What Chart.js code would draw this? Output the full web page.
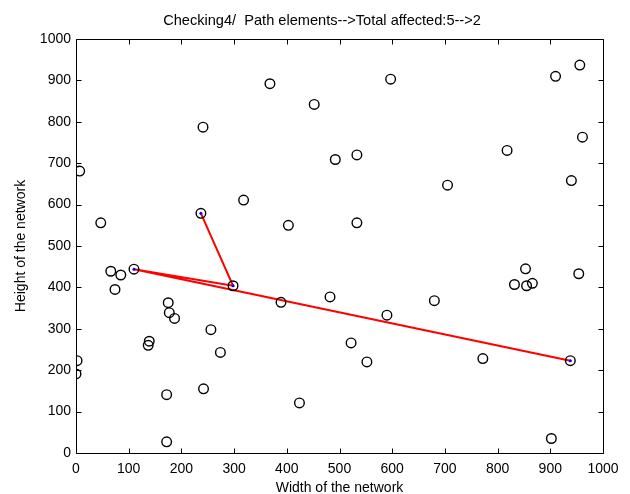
<!DOCTYPE html>
<html>
<head>
<meta charset="utf-8">
<script src="https://cdn.jsdelivr.net/npm/chart.js@4/dist/chart.umd.min.js"></script>
<style>
html,body{margin:0;padding:0;background:#fff;}
#wrap{width:630px;height:494px;position:relative;}
</style>
</head>
<body>
<div id="wrap"><canvas id="c" width="630" height="494"></canvas></div>
<script>
const nodeX = [7,47,66,85,74,110,175,177,187,139,137,2,0,172,172,242,256,274,298,389,424,482,590,522,552,680,772,938,832,853,855,866,954,902,237,241,368,452,492,318,403,533,533,597,705,818,910,956,961,940];
const nodeY = [681,556,439,430,395,444,363,339,325,270,260,223,191,141,27,155,298,243,404,364,121,377,333,266,220,368,228,223,407,445,404,410,433,35,579,787,892,842,709,611,550,720,556,903,647,731,910,937,763,658];
const pathX = [237,298,110,938];
const pathY = [579,404,444,223];
const tickValues = [0,100,200,300,400,500,600,700,800,900,1000];
const titleText = 'Checking4/  Path elements-->Total affected:5-->2';
const xLabel = 'Width of the network';
const yLabel = 'Height of the network';

const nodes = nodeX.map((x,i)=>({x:x,y:nodeY[i]}));
const path = pathX.map((x,i)=>({x:x,y:pathY[i]}));
const FONT = "'Liberation Sans', Arial, Helvetica, sans-serif";

const boxTicks = {
  id:'boxTicks',
  afterDraw(chart){
    const ctx = chart.ctx, a = chart.chartArea;
    const xs = chart.scales.x, ys = chart.scales.y;
    ctx.save();
    ctx.strokeStyle = '#000';
    ctx.lineWidth = 1;
    ctx.beginPath();
    const L = Math.round(a.left)+0.5, R = Math.round(a.right)+0.5, T = Math.round(a.top)+0.5, B = Math.round(a.bottom)+0.5;
    ctx.rect(L, T, R-L, B-T);
    const len = 5;
    tickValues.forEach(v=>{
      const px = Math.round(xs.getPixelForValue(v))+0.5;
      ctx.moveTo(px,B); ctx.lineTo(px,B-len);
      ctx.moveTo(px,T); ctx.lineTo(px,T+len);
      const py = Math.round(ys.getPixelForValue(v))+0.5;
      ctx.moveTo(L,py); ctx.lineTo(L+len,py);
      ctx.moveTo(R,py); ctx.lineTo(R-len,py);
    });
    ctx.stroke();
    ctx.restore();
  }
};

new Chart(document.getElementById('c'), {
  type:'scatter',
  data:{
    datasets:[
      {label:'path nodes', data:path, pointRadius:1.5, pointBackgroundColor:'#0000ff', pointBorderColor:'#0000ff', borderWidth:0, showLine:false},
      {label:'nodes', data:nodes, pointRadius:4.8, pointBorderWidth:1.4, pointBorderColor:'#000', pointBackgroundColor:'rgba(0,0,0,0)', showLine:false},
      {label:'path', data:path, showLine:true, borderColor:'#ff0000', borderWidth:2, pointRadius:0, fill:false, tension:0}
    ]
  },
  options:{
    responsive:false,
    animation:false,
    events:[],
    layout:{padding:{left:14,right:0,top:0,bottom:0}},
    plugins:{
      legend:{display:false},
      tooltip:{enabled:false},
      title:{display:true, text:titleText, color:'#000', font:{family:FONT, size:14.6, weight:'normal'}, padding:{top:12.5,bottom:9}}
    },
    scales:{
      x:{
        type:'linear', min:0, max:1000,
        afterFit(s){ s.height = 41; },
        afterBuildTicks(s){ s.ticks = tickValues.map(v=>({value:v})); },
        grid:{display:true, drawOnChartArea:false, drawTicks:false},
        border:{display:false},
        ticks:{color:'#000', padding:8, maxRotation:0, autoSkip:false, font:{family:FONT,size:14}, callback:(v)=>String(v)},
        title:{display:true, text:xLabel, color:'#000', font:{family:FONT,size:14}, padding:{top:0,bottom:-3}}
      },
      y:{
        type:'linear', min:0, max:1000,
        afterFit(s){ s.width = 62; },
        afterBuildTicks(s){ s.ticks = tickValues.map(v=>({value:v})); },
        grid:{display:true, drawOnChartArea:false, drawTicks:false},
        border:{display:false},
        ticks:{color:'#000', padding:5, autoSkip:false, font:{family:FONT,size:14}, callback:(v)=>String(v)},
        title:{display:true, text:yLabel, color:'#000', font:{family:FONT,size:14}, padding:{top:-1,bottom:0}}
      },
      yRight:{
        type:'linear', position:'right', min:0, max:1000,
        afterFit(s){ s.width = 27; },
        grid:{display:false, drawOnChartArea:false, drawTicks:false},
        border:{display:false},
        ticks:{display:false}
      }
    }
  },
  plugins:[boxTicks]
});
</script>
</body>
</html>
